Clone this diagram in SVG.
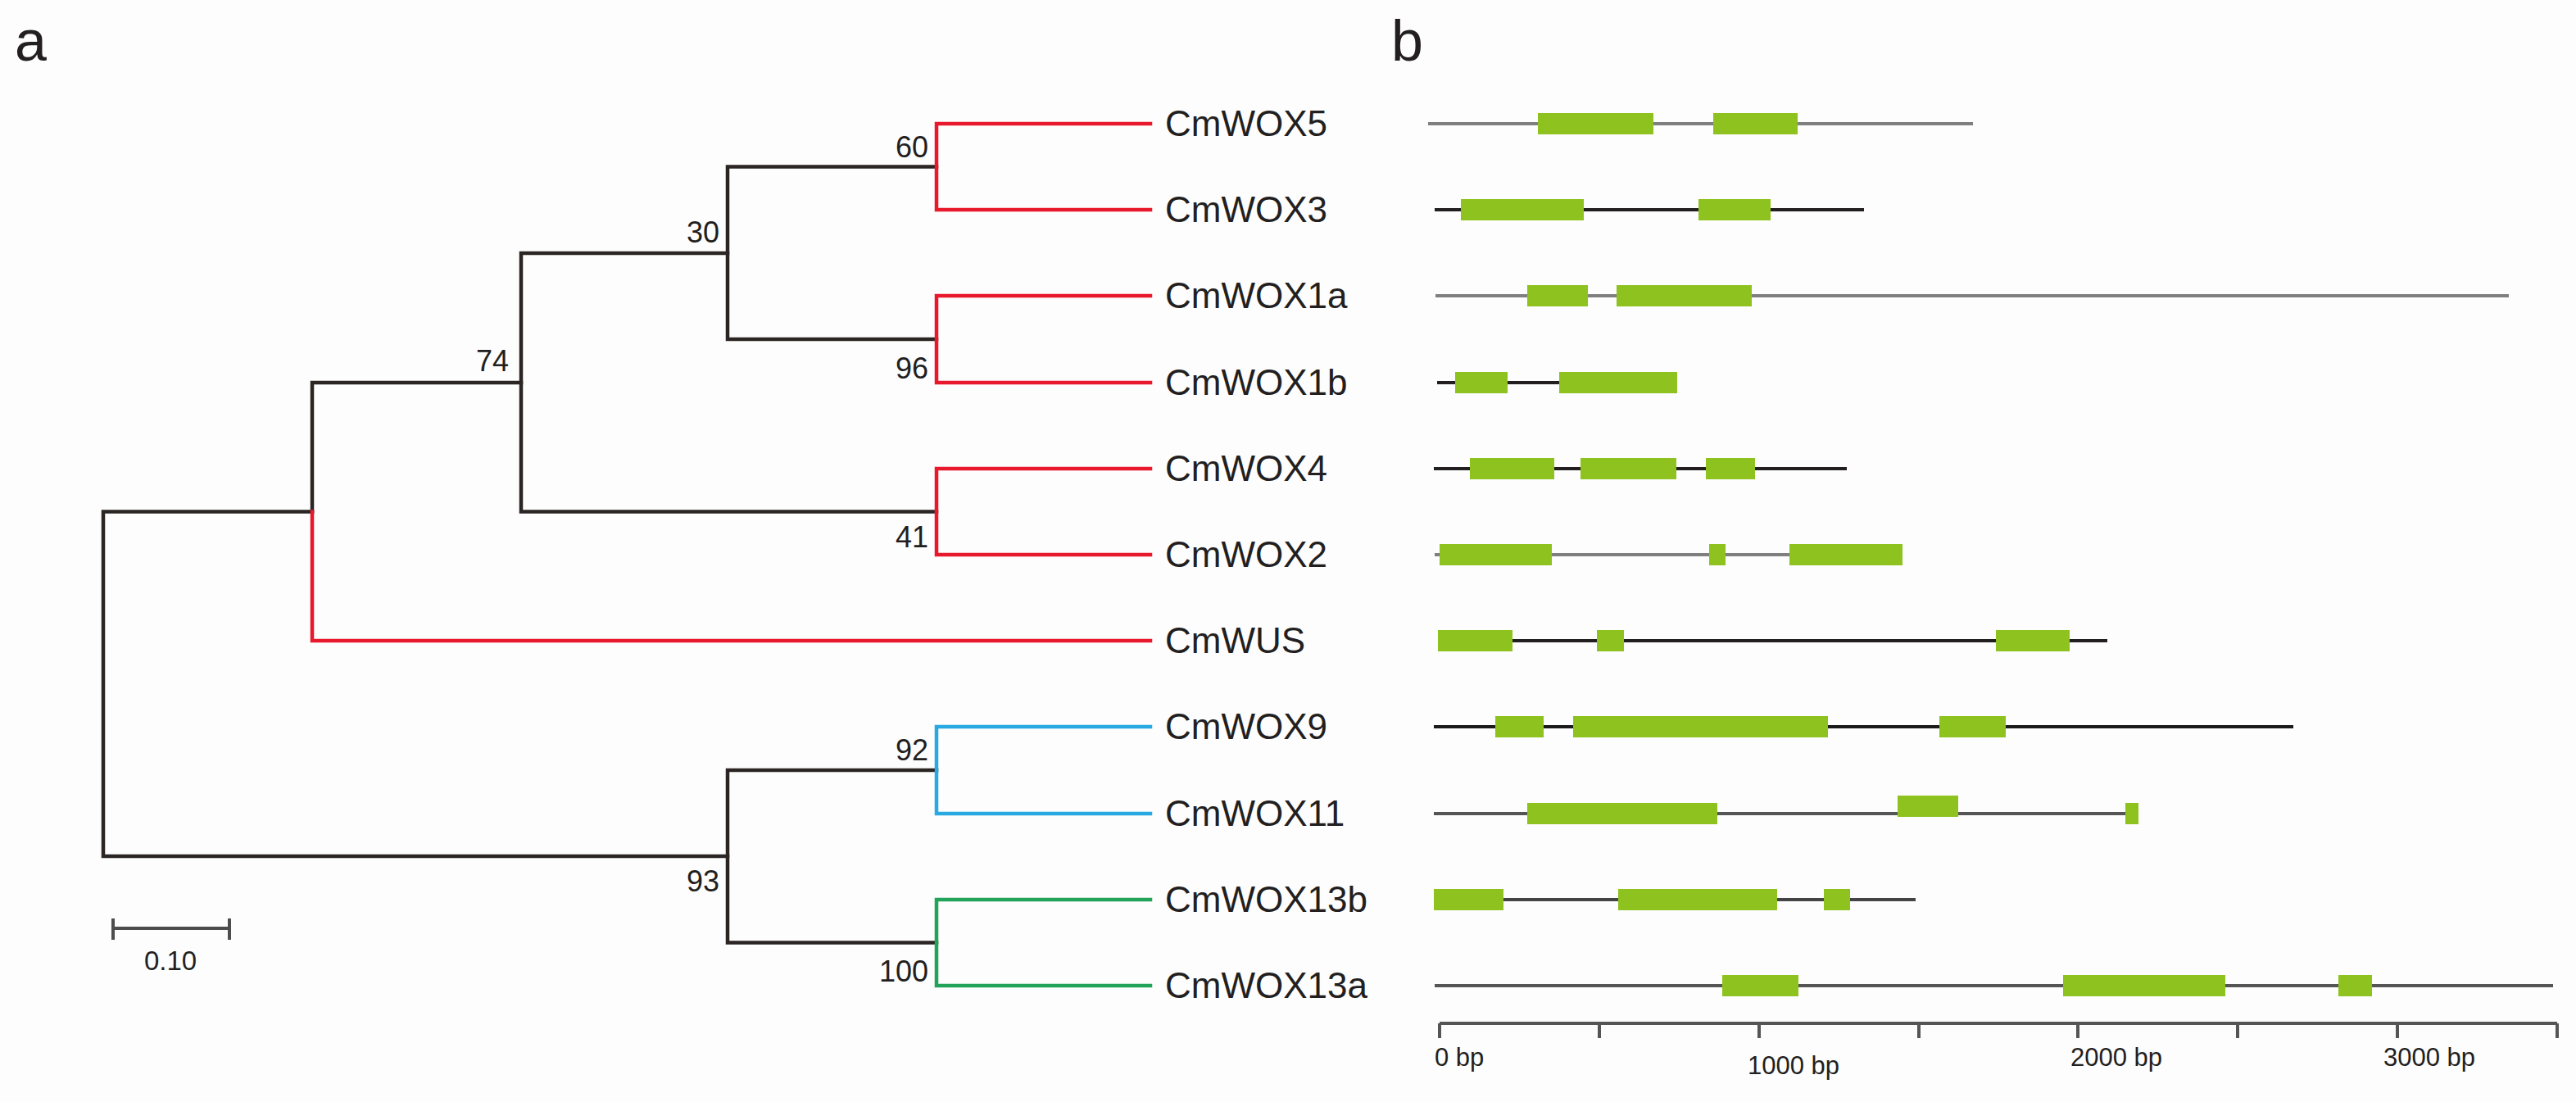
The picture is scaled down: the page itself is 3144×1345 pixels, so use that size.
<svg xmlns="http://www.w3.org/2000/svg" width="3144" height="1345" viewBox="0 0 3144 1345">
<style>
.t{font-family:"Liberation Sans",Arial,sans-serif;fill:#231f20}
.lbl{font-size:44px}
.bs{font-size:36px;text-anchor:end}
.pan{font-size:70px}
.ax{font-size:31px}
.br{fill:none;stroke-width:4.5;stroke-linecap:square}
.k{stroke:#2b2523}.r{stroke:#e8192c}.bl{stroke:#29a9e1}.g{stroke:#22a35a}
.in{stroke-width:4;fill:none}
.ex{fill:#8dc21f}
</style>
<rect width="3144" height="1345" fill="#fdfdfd"/>
<text class="t pan" x="18" y="74">a</text>
<text class="t pan" x="1698" y="74">b</text>
<g id="connectors">
<path class="br k" d="M126,624.5V1045M126,624.5H381M126,1045H888"/>
<path class="br k" d="M381,467V624.5M381,467H636"/>
<path class="br r" d="M381,624.5V782H1404"/>
<path class="br k" d="M636,309V624.5M636,309H888M636,624.5H1143"/>
<path class="br k" d="M888,203.5V414M888,203.5H1143M888,414H1143"/>
<path class="br r" d="M1143,151V256M1143,151H1404M1143,256H1404"/>
<path class="br r" d="M1143,361V467M1143,361H1404M1143,467H1404"/>
<path class="br r" d="M1143,572V677M1143,572H1404M1143,677H1404"/>
<path class="br k" d="M888,940V1150.5M888,940H1143M888,1150.5H1143"/>
<path class="br bl" d="M1143,887V993M1143,887H1404M1143,993H1404"/>
<path class="br g" d="M1143,1098V1203M1143,1098H1404M1143,1203H1404"/>
</g>
<g id="bootstrap">
<text class="t bs" x="1133" y="192">60</text>
<text class="t bs" x="878" y="296">30</text>
<text class="t bs" x="621" y="453">74</text>
<text class="t bs" x="1133" y="462">96</text>
<text class="t bs" x="1133" y="668">41</text>
<text class="t bs" x="1133" y="928">92</text>
<text class="t bs" x="878" y="1088">93</text>
<text class="t bs" x="1133" y="1198">100</text>
</g>
<g id="scalebar">
<path d="M138,1133H280M138,1121V1147M280,1121V1147" stroke="#4d4d4d" stroke-width="4" fill="none"/>
<text class="t" x="208" y="1184" font-size="33" text-anchor="middle">0.10</text>
</g>
<g id="node-CmWOX5"><text class="t lbl" x="1422" y="166">CmWOX5</text>
<path class="in" stroke="#7f7f7f" d="M1743,151H2408"/><rect class="ex" x="1877" y="138" width="141" height="26"/><rect class="ex" x="2091" y="138" width="103" height="26"/></g>
<g id="node-CmWOX3"><text class="t lbl" x="1422" y="271">CmWOX3</text>
<path class="in" stroke="#231f20" d="M1751,256H2275"/><rect class="ex" x="1783" y="243" width="150" height="26"/><rect class="ex" x="2073" y="243" width="88" height="26"/></g>
<g id="node-CmWOX1a"><text class="t lbl" x="1422" y="376">CmWOX1a</text>
<path class="in" stroke="#7f7f7f" d="M1752,361H3062"/><rect class="ex" x="1864" y="348" width="74" height="26"/><rect class="ex" x="1973" y="348" width="165" height="26"/></g>
<g id="node-CmWOX1b"><text class="t lbl" x="1422" y="482">CmWOX1b</text>
<path class="in" stroke="#231f20" d="M1754,467H2047"/><rect class="ex" x="1776" y="454" width="64" height="26"/><rect class="ex" x="1903" y="454" width="144" height="26"/></g>
<g id="node-CmWOX4"><text class="t lbl" x="1422" y="587">CmWOX4</text>
<path class="in" stroke="#231f20" d="M1750,572H2254"/><rect class="ex" x="1794" y="559" width="103" height="26"/><rect class="ex" x="1929" y="559" width="117" height="26"/><rect class="ex" x="2082" y="559" width="60" height="26"/></g>
<g id="node-CmWOX2"><text class="t lbl" x="1422" y="692">CmWOX2</text>
<path class="in" stroke="#7f7f7f" d="M1751,677H2322"/><rect class="ex" x="1757" y="664" width="137" height="26"/><rect class="ex" x="2086" y="664" width="20" height="26"/><rect class="ex" x="2184" y="664" width="138" height="26"/></g>
<g id="node-CmWUS"><text class="t lbl" x="1422" y="797">CmWUS</text>
<path class="in" stroke="#231f20" d="M1755,782H2572"/><rect class="ex" x="1755" y="769" width="91" height="26"/><rect class="ex" x="1949" y="769" width="33" height="26"/><rect class="ex" x="2436" y="769" width="90" height="26"/></g>
<g id="node-CmWOX9"><text class="t lbl" x="1422" y="902">CmWOX9</text>
<path class="in" stroke="#1a1a1a" d="M1750,887H2799"/><rect class="ex" x="1825" y="874" width="59" height="26"/><rect class="ex" x="1920" y="874" width="311" height="26"/><rect class="ex" x="2367" y="874" width="81" height="26"/></g>
<g id="node-CmWOX11"><text class="t lbl" x="1422" y="1008">CmWOX11</text>
<path class="in" stroke="#555" d="M1750,993H2610"/><rect class="ex" x="1864" y="980" width="232" height="26"/><rect class="ex" x="2316" y="971" width="74" height="26"/><rect class="ex" x="2594" y="980" width="16" height="26"/></g>
<g id="node-CmWOX13b"><text class="t lbl" x="1422" y="1113">CmWOX13b</text>
<path class="in" stroke="#444" d="M1750,1098H2338"/><rect class="ex" x="1750" y="1085" width="85" height="26"/><rect class="ex" x="1975" y="1085" width="194" height="26"/><rect class="ex" x="2226" y="1085" width="32" height="26"/></g>
<g id="node-CmWOX13a"><text class="t lbl" x="1422" y="1218">CmWOX13a</text>
<path class="in" stroke="#555" d="M1751,1203H3116"/><rect class="ex" x="2102" y="1190" width="93" height="26"/><rect class="ex" x="2518" y="1190" width="198" height="26"/><rect class="ex" x="2854" y="1190" width="41" height="26"/></g>
<g id="axis">
<path d="M1757,1249H3121M1757,1249V1267M1952,1249V1267M2147,1249V1267M2342,1249V1267M2536,1249V1267M2731,1249V1267M2926,1249V1267M3121,1249V1267" stroke="#555" stroke-width="4" fill="none"/>
<text class="t ax" x="1751" y="1301">0 bp</text>
<text class="t ax" x="2133" y="1311">1000 bp</text>
<text class="t ax" x="2527" y="1301">2000 bp</text>
<text class="t ax" x="2909" y="1301">3000 bp</text>
</g>
</svg>
